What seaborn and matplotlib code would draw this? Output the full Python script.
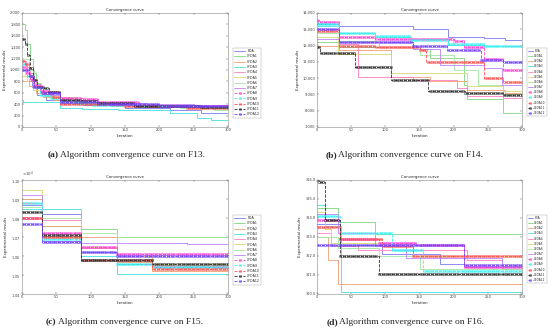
"""
Convergence curves of FDA and CFDA variants on F13-F16
"""
import numpy as np
import matplotlib
matplotlib.use('Agg')
import matplotlib.pyplot as plt
import matplotlib.ticker as mticker
import seaborn as sns

# legend names and styles
labels = ['FDA'] + [f'CFDA{i}' for i in range(1, 13)]
colors = ['#7b7bf0', '#7fd67f', '#f0a070', '#40e0e0', '#ff7fbf', '#d8d870', '#a0e8a0',
          '#c080ff', '#ff40d0', '#40f0f0', '#ff5050', '#303030', '#7040ff']
with_markers = [False] * 8 + [True] * 5

iterations = np.arange(0, 301)

# step breakpoints (iteration, best value)
f13_steps = [
    [(0, 1000), (8, 900), (15, 700), (22, 560), (35, 480), (55, 420), (90, 380), (150, 330), (215, 290), (260, 250), (285, 240)],
    [(0, 1800), (4, 1700), (8, 1450), (12, 1200), (16, 950), (20, 780), (26, 640), (34, 540), (45, 500), (60, 450), (85, 410), (120, 380), (170, 350), (240, 330)],
    [(0, 800), (10, 720), (20, 600), (30, 520), (45, 480), (75, 400), (130, 370), (200, 350), (260, 340)],
    [(0, 470), (2, 430), (55, 340), (88, 320), (140, 300), (215, 240), (255, 150), (275, 130)],
    [(0, 1150), (6, 1050), (12, 850), (20, 700), (30, 580), (45, 500), (75, 440), (120, 400), (180, 380), (250, 360)],
    [(0, 900), (8, 800), (16, 650), (28, 560), (45, 500), (75, 430), (130, 400), (200, 380), (260, 350)],
    [(0, 1200), (10, 1000), (18, 780), (28, 620), (45, 520), (80, 430), (150, 380), (230, 330), (280, 300)],
    [(0, 1100), (8, 950), (16, 760), (26, 620), (40, 560), (56, 470), (110, 420), (180, 400), (250, 380)],
    [(0, 1050), (6, 950), (12, 820), (18, 720), (26, 640), (38, 610), (52, 600), (56, 510), (87, 490), (110, 430), (170, 370), (230, 360)],
    [(0, 1100), (8, 900), (16, 700), (26, 560), (40, 500), (56, 420), (100, 380), (170, 360), (250, 350)],
    [(0, 1150), (5, 1100), (10, 900), (18, 720), (28, 600), (45, 520), (56, 400), (150, 370), (240, 330)],
    [(0, 1540), (4, 1450), (8, 1270), (12, 1040), (16, 830), (22, 710), (32, 680), (39, 620), (56, 470), (87, 450), (109, 420), (163, 360), (260, 355)],
    [(0, 1000), (10, 900), (18, 700), (30, 600), (56, 440), (110, 400), (200, 370), (260, 360)],
]

f14_steps = [
    [(0, 13300), (32, 13200), (140, 13000), (192, 12550), (245, 12450), (275, 12330)],
    [(0, 12200), (32, 11900), (150, 11800), (165, 11250), (215, 9600), (220, 8700), (272, 7850)],
    [(0, 12000), (32, 11700), (108, 10100), (165, 9800), (220, 9300), (275, 9100)],
    [(0, 13500), (1, 13200), (32, 12750), (85, 12550), (138, 12400), (192, 12050), (245, 11950)],
    [(0, 13000), (32, 12100), (60, 10100), (140, 9900), (205, 9400), (220, 8900), (272, 8800)],
    [(0, 12500), (30, 11500), (108, 10300), (220, 9500), (272, 9200)],
    [(0, 12800), (32, 12300), (90, 11900), (150, 11400), (200, 10500), (235, 9600), (272, 9050)],
    [(0, 12400), (32, 12200), (140, 11800), (180, 10800), (245, 10600), (270, 9600)],
    [(0, 13600), (3, 13450), (32, 12550), (85, 12400), (200, 12300), (215, 11900), (245, 11200), (272, 10500)],
    [(0, 13300), (32, 12800), (85, 12600), (138, 12350), (192, 12100), (245, 11950)],
    [(0, 12900), (32, 11950), (85, 11900), (150, 11700), (160, 11000), (245, 10000), (272, 9750)],
    [(0, 11900), (4, 11560), (56, 10700), (109, 9860), (163, 9200), (216, 9100), (272, 8970)],
    [(0, 13000), (32, 12200), (140, 11950), (190, 11700), (240, 11100), (272, 11000)],
]

f15_steps = [
    [(0, 10870), (29, 10820), (86, 10620), (138, 10560), (190, 10540)],
    [(0, 10900), (29, 10760), (86, 10740), (138, 10700)],
    [(0, 10900), (29, 10760), (86, 10700), (138, 10570), (190, 10520)],
    [(0, 10850), (86, 10600), (138, 10505)],
    [(0, 10880), (29, 10790), (86, 10640), (138, 10600), (190, 10550)],
    [(0, 10950), (29, 10700), (86, 10650), (138, 10600), (190, 10560)],
    [(0, 10860), (29, 10800), (86, 10720), (138, 10700)],
    [(0, 10920), (29, 10680), (86, 10670), (240, 10665)],
    [(0, 10800), (29, 10720), (86, 10650), (138, 10610)],
    [(0, 10880), (29, 10690), (86, 10580), (138, 10560), (190, 10540)],
    [(0, 10800), (29, 10700), (86, 10580), (190, 10530)],
    [(0, 10830), (29, 10710), (86, 10580), (190, 10560)],
    [(0, 10770), (29, 10675), (86, 10620), (138, 10600)],
]

f16_steps = [
    [(0, 323.7), (33, 322.6), (95, 322.1), (180, 321.6), (215, 321.4)],
    [(0, 324.5), (30, 323.8), (85, 323.15)],
    [(0, 323.0), (16, 321.8), (30, 320.5)],
    [(0, 324.7), (12, 323.6), (35, 320.1)],
    [(0, 323.2), (20, 322.5), (60, 322.3), (220, 321.8), (270, 321.3)],
    [(0, 324.3), (12, 323.4), (20, 322.7), (140, 322.0)],
    [(0, 323.0), (30, 322.4), (90, 322.0), (150, 321.3)],
    [(0, 324.2), (30, 323.2), (85, 322.5), (130, 321.9), (270, 321.4)],
    [(0, 323.9), (33, 322.9), (90, 322.7), (145, 322.6), (215, 321.4)],
    [(0, 324.1), (33, 323.2), (110, 322.3), (155, 321.2)],
    [(0, 323.5), (33, 322.9), (95, 322.5), (140, 322.0)],
    [(0, 326.0), (3, 325.9), (11, 325.7), (12, 323.9), (33, 322.0), (90, 321.05)],
    [(0, 322.6), (215, 321.5)],
]

captions = ['Algorithm convergence curve on F13.', 'Algorithm convergence curve on F14.',
            'Algorithm convergence curve on F15.', 'Algorithm convergence curve on F16.']
tags = ['(a)', '(b)', '(c)', '(d)']
ylims = [(0, 2000), (7000, 14000), (10400, 11000), (320.0, 326.0)]
ysteps = [200, 1000, 100, 1.0]


def expand(points):
    """step function value at every iteration"""
    vals = np.empty(len(iterations))
    for i, t in enumerate(iterations):
        vals[i] = [v for (s, v) in points if s <= t][-1]
    return vals


sns.set_theme(style='ticks')
plt.rcParams['font.family'] = ['DejaVu Sans']

fig = plt.figure(figsize=(5.5, 3.33), dpi=100)
W, H = 550, 333
boxes = [(22, 13, 228, 127), (317, 13, 522, 127), (22, 180, 228, 294), (317, 180, 522, 294)]
cap_pos = [(48, 155), (326, 155), (46, 322), (327, 322)]

for k, steps in enumerate([f13_steps, f14_steps, f15_steps, f16_steps]):
    x0, y0, x1, y1 = boxes[k]
    ax = fig.add_axes([x0 / W, 1 - y1 / H, (x1 - x0) / W, (y1 - y0) / H])
    for j, pts in enumerate(steps):
        kws = dict(color=colors[j], linewidth=0.6, drawstyle='steps-post', label=labels[j])
        if with_markers[j]:
            # seaborn paints marker edges white unless told otherwise
            kws.update(marker='o', markersize=1.7, markevery=3, markeredgewidth=0.35,
                       markerfacecolor='none', markeredgecolor=colors[j], linestyle='--')
        sns.lineplot(x=iterations, y=expand(pts), ax=ax, **kws)

    ax.set_xlim(0, 300)
    ax.set_ylim(*ylims[k])
    ax.set_xticks(np.arange(0, 301, 50))
    ax.set_yticks(np.arange(ylims[k][0], ylims[k][1] + ysteps[k] / 2, ysteps[k]))
    if k in (0, 1):
        ax.yaxis.set_major_formatter(mticker.FuncFormatter(lambda v, p: f'{v:,.0f}'))
    elif k == 2:
        fmt = mticker.ScalarFormatter(useMathText=True)
        fmt.set_powerlimits((0, 0))
        ax.yaxis.set_major_formatter(fmt)
        ax.yaxis.get_offset_text().set_fontsize(2.8)
    else:
        ax.yaxis.set_major_formatter(mticker.FormatStrFormatter('%.1f'))

    ax.tick_params(direction='in', length=1.5, width=0.3, labelsize=2.6, pad=1,
                   top=True, right=True, colors='#444444')
    for sp in ax.spines.values():
        sp.set_linewidth(0.4)
        sp.set_color('#888888')
    ax.set_title('Convergence curve', fontsize=2.8, pad=1.5)
    ax.set_xlabel('Iteration', fontsize=2.8, labelpad=1)
    ax.set_ylabel('Experimental results', fontsize=2.8, labelpad=2)

    # right-column legends are squeezed against the page edge
    narrow = k in (1, 3)
    leg = ax.legend(loc='upper left', bbox_to_anchor=(1.02, 0.7), fontsize=2.1 if narrow else 2.3,
                    frameon=True, handlelength=1.8 if narrow else 3.5,
                    handletextpad=0.4 if narrow else 0.6, borderpad=0.4, labelspacing=0.4,
                    borderaxespad=0.2, fancybox=False, edgecolor='#888888')
    leg.get_frame().set_linewidth(0.3)

    cx, cy = cap_pos[k]
    fig.text(cx / W, 1 - cy / H, tags[k], ha='left', va='center',
             fontsize=6.8, family='Liberation Serif', weight='bold')
    fig.text((cx + 12) / W, 1 - cy / H, captions[k], ha='left', va='center',
             fontsize=6.8, family='Liberation Serif')

fig.savefig('out.png', dpi=100)
